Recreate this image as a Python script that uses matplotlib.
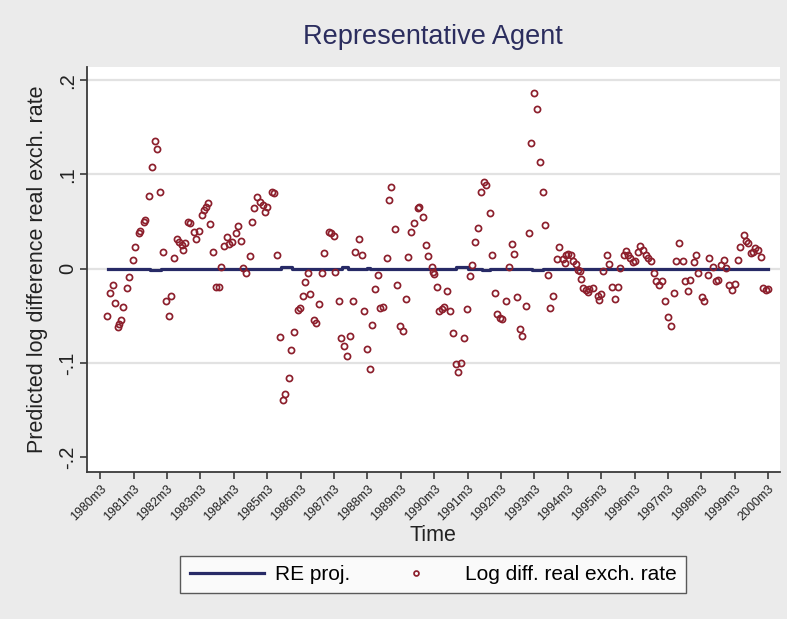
import matplotlib
matplotlib.use("Agg")
import matplotlib.pyplot as plt

plt.rcParams['font.family'] = ['Liberation Sans', 'DejaVu Sans']

# ---------------- data ----------------
# months since 1980m3
obs_month = [2.4, 3.6, 4.6, 5.5, 6.6, 6.9, 7.4, 8.4, 9.6, 10.5, 11.8, 12.6, 13.8, 14.4,
             15.6, 16.2, 17.6, 18.6, 19.8, 20.6, 21.6, 22.7, 23.7, 24.6, 25.4, 26.4,
             27.6, 28.2, 29.4, 29.7, 30.6, 31.4, 32.4, 33.6, 34.5, 35.4, 36.6, 37.4,
             38.1, 38.6, 39.6, 40.6, 41.7, 42.6, 43.5, 44.4, 45.6, 46.2, 47.4, 48.8,
             49.5, 50.7, 51.5, 52.5, 53.7, 54.6, 55.4, 56.4, 57.6, 58.5, 59.4, 60.0,
             61.8, 62.3, 63.7, 64.5, 65.7, 66.5, 67.7, 68.7, 69.5, 71.0, 71.7, 72.8,
             73.7, 74.6, 75.5, 76.7, 77.7, 78.6, 79.7, 80.6, 82.1, 83.1, 83.9, 84.5,
             85.7, 86.6, 87.5, 88.7, 89.7, 90.8, 91.7, 92.9, 93.9, 94.7, 95.9, 96.8,
             97.7, 98.9, 99.7, 100.7, 101.7, 102.9, 103.7, 104.6, 105.8, 106.7, 107.7,
             108.9, 109.7, 110.7, 111.8, 112.7, 114.1, 114.7, 115.9, 116.9, 117.9,
             119.1, 119.7, 119.9, 120.9, 121.7, 122.9, 123.7, 124.7, 125.6, 126.7,
             127.7, 128.5, 129.7, 130.7, 131.7, 132.8, 133.7, 134.6, 135.9, 136.7,
             137.9, 138.5, 139.9, 140.9, 141.8, 142.7, 143.6, 144.5, 145.9, 146.9,
             148.1, 148.7, 149.9, 150.7, 151.7, 152.9, 153.9, 154.7, 155.9, 156.8,
             157.9, 158.9, 159.8, 160.8, 161.7, 162.8, 164.0, 164.9, 166.1, 166.9,
             167.3, 168.1, 169.1, 170.0, 170.9, 171.8, 172.4, 172.9, 173.6, 174.5,
             175.1, 175.7, 176.9, 178.7, 179.2, 179.9, 180.8, 182.0, 182.8, 183.8,
             184.9, 186.1, 186.8, 188.0, 188.8, 189.7, 190.4, 191.3, 192.1, 193.3,
             194.0, 194.9, 196.0, 196.9, 197.8, 198.8, 199.6, 200.8, 201.8, 203.0,
             203.8, 205.0, 206.0, 206.8, 208.0, 209.2, 210.1, 211.0, 211.9, 213.2,
             214.0, 214.9, 216.1, 217.0, 218.2, 218.8, 220.0, 221.2, 222.1, 223.0,
             224.0, 224.8, 226.0, 227.0, 228.1, 229.0, 230.0, 231.1, 232.0, 232.8,
             233.8, 234.4, 235.3, 236.2, 237.2, 238.0, 239.2, 240.0]
obs_value = [-0.050, -0.026, -0.017, -0.036, -0.062, -0.059, -0.055, -0.041, -0.020, -0.009,
             0.009, 0.023, 0.038, 0.040, 0.050, 0.052, 0.077, 0.108, 0.136, 0.127,
             0.081, 0.018, -0.034, -0.050, -0.029, 0.011, 0.031, 0.028, 0.025, 0.020,
             0.027, 0.050, 0.048, 0.039, 0.031, 0.040, 0.057, 0.062, 0.066, 0.070,
             0.047, 0.018, -0.019, -0.019, 0.002, 0.024, 0.034, 0.026, 0.028, 0.038,
             0.045, 0.029, 0.001, -0.005, 0.013, 0.050, 0.064, 0.076, 0.071, 0.068,
             0.060, 0.065, 0.081, 0.080, 0.015, -0.073, -0.139, -0.133, -0.116, -0.086,
             -0.067, -0.044, -0.042, -0.029, -0.014, -0.005, -0.027, -0.055, -0.058, -0.038,
             -0.005, 0.017, 0.039, 0.038, 0.035, -0.003, -0.034, -0.074, -0.082, -0.093,
             -0.071, -0.034, 0.018, 0.032, 0.014, -0.045, -0.085, -0.106, -0.060, -0.022,
             -0.007, -0.042, -0.041, 0.011, 0.073, 0.087, 0.042, -0.017, -0.061, -0.066,
             -0.032, 0.012, 0.039, 0.049, 0.064, 0.066, 0.055, 0.025, 0.013, 0.002,
             -0.003, -0.006, -0.019, -0.045, -0.043, -0.041, -0.024, -0.045, -0.068, -0.101,
             -0.110, -0.100, -0.074, -0.043, -0.008, 0.004, 0.028, 0.043, 0.081, 0.092,
             0.089, 0.059, 0.015, -0.026, -0.048, -0.052, -0.053, -0.034, 0.002, 0.026,
             0.016, -0.030, -0.064, -0.071, -0.040, 0.038, 0.133, 0.186, 0.169, 0.113,
             0.081, 0.046, -0.007, -0.042, -0.029, 0.010, 0.023, 0.010, 0.006, 0.014,
             0.016, 0.015, 0.008, 0.005, -0.001, -0.002, -0.011, -0.020, -0.023, -0.025,
             -0.022, -0.020, -0.029, -0.033, -0.027, -0.002, 0.014, 0.005, -0.019, -0.032,
             -0.019, 0.001, 0.015, 0.019, 0.015, 0.011, 0.007, 0.008, 0.018, 0.024,
             0.020, 0.015, 0.011, 0.008, -0.005, -0.013, -0.017, -0.013, -0.034, -0.051,
             -0.061, -0.026, 0.008, 0.027, 0.008, -0.013, -0.024, -0.012, 0.007, 0.015,
             -0.005, -0.030, -0.034, -0.007, 0.011, 0.002, -0.013, -0.012, 0.004, 0.009,
             0.001, -0.017, -0.023, -0.016, 0.009, 0.023, 0.036, 0.029, 0.027, 0.017,
             0.018, 0.022, 0.020, 0.012, -0.021, -0.023, -0.022]

re_month = [3, 18, 22, 61, 65, 69, 87, 89, 96, 97, 128, 132, 137, 140, 155, 159, 240]
re_value = [0.000, -0.001, 0.000, -0.0007, 0.0017, 0.000, 0.0017, 0.000, 0.001, 0.000,
            0.0017, 0.000, -0.001, 0.000, -0.001, 0.000, 0.000]

tick_month = [0, 12, 24, 36, 48, 60, 72, 84, 96, 108, 120, 132, 144, 156, 168, 180,
              192, 204, 216, 228, 240]
tick_label = ['1980m3', '1981m3', '1982m3', '1983m3', '1984m3', '1985m3', '1986m3',
              '1987m3', '1988m3', '1989m3', '1990m3', '1991m3', '1992m3', '1993m3',
              '1994m3', '1995m3', '1996m3', '1997m3', '1998m3', '1999m3', '2000m3']
y_ticks = [-0.2, -0.1, 0.0, 0.1, 0.2]
y_tick_labels = ['-.2', '-.1', '0', '.1', '.2']

# ---------------- figure ----------------
BG = '#EBEBEB'
LINE_C = '#272A66'
MARK_C = '#8C1F2C'
AX_C = '#3A3A3A'

fig = plt.figure(figsize=(7.87, 6.19), dpi=100, facecolor=BG)
ax = fig.add_axes([0.1102, 0.2380, 0.8809, 0.6542])
ax.set_facecolor('white')

ax.plot(re_month, re_value, drawstyle='steps-post', color=LINE_C, lw=2.3,
        label='RE proj.', zorder=3)
ax.plot(obs_month, obs_value, ls='none', marker='o', ms=4.4, mfc='none',
        mec=MARK_C, mew=1.25, label='Log diff. real exch. rate', zorder=4)

ax.set_xlim(-4.8, 244.2)
ax.set_ylim(-0.2155, 0.2144)

ax.set_yticks(y_ticks)
ax.set_yticklabels(y_tick_labels, rotation=90, va='center', fontsize=14.5)
ax.set_xticks(tick_month)
ax.set_xticklabels(tick_label, rotation=45, ha='right', rotation_mode='anchor',
                   fontsize=9)

ax.yaxis.grid(True, color='#E2E2E2', lw=1.6, zorder=0)
ax.set_axisbelow(True)
ax.get_ygridlines()[0].set_visible(False)

for s in ['top', 'right']:
    ax.spines[s].set_visible(False)
for s in ['left', 'bottom']:
    ax.spines[s].set_color(AX_C)
    ax.spines[s].set_linewidth(1.3)
ax.tick_params(axis='y', length=5, width=1.2, color=AX_C, pad=2, labelcolor='#222222')
ax.tick_params(axis='x', length=5, width=1.2, color=AX_C, pad=3, labelcolor='#222222')

ax.set_ylabel('Predicted log difference real exch. rate', fontsize=15.5, color='#222222')
ax.yaxis.set_label_coords(-0.056, 0.5)
ax.set_xlabel('Time', fontsize=15.5, color='#222222')
ax.xaxis.set_label_coords(0.5, -0.131)

ax.set_title('Representative Agent', fontsize=19.5, color='#2B2D5E', y=1.0536, va='center')

leg = ax.legend(loc='center', bbox_to_anchor=(0.5502, 0.0719), bbox_transform=fig.transFigure,
                ncol=2, fontsize=15, frameon=True, fancybox=False, handlelength=3.56,
                handletextpad=0.56, columnspacing=1.35, borderpad=0.45, markerscale=0.8)
leg.get_frame().set_edgecolor('#333333')
leg.get_frame().set_linewidth(1.0)
leg.get_frame().set_facecolor('white')

fig.savefig('out.png', dpi=100, facecolor=BG)
